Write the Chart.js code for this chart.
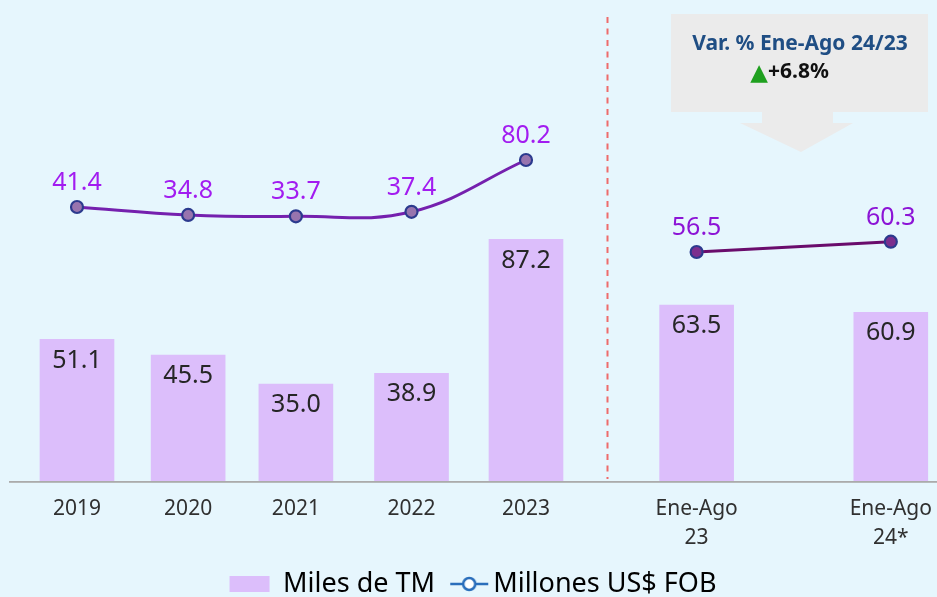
<!DOCTYPE html>
<html><head><meta charset="utf-8">
<script src="https://cdn.jsdelivr.net/npm/chart.js@4.4.1/dist/chart.umd.min.js"></script>
<style>html,body{margin:0;padding:0;background:#E6F6FD;overflow:hidden}#wrap{width:937px;height:597px}</style>
</head><body><div id="wrap"><canvas id="c" width="937" height="597"></canvas></div>
<script>
// ---- data ----
const categories = ['2019', '2020', '2021', '2022', '2023', ['Ene-Ago', '23'], ['Ene-Ago', '24*']];
const tmValues = [51.1, 45.5, 35.0, 38.9, 87.2, 63.5, 60.9];      // Miles de TM
const fobAnnual = [41.4, 34.8, 33.7, 37.4, 80.2];                 // Millones US$ FOB 2019-2023
const fobPartial = [56.5, 60.3];                                   // Millones US$ FOB Ene-Ago
const legendLabels = ['Miles de TM', 'Millones US$ FOB'];
const varTitle = 'Var. % Ene-Ago 24/23';
const varValue = '+6.8%';

// ---- layout (category slots on the x axis) ----
const slot = [0, 0.99, 1.95, 2.98, 4, 5.52, 7.25];
const SEPARATOR_AT = 4.719;

const BAR = '#DCBEFB';
const LINE1 = '#7520AE';
const LINE2 = '#6A0C6C';
const MARK_BORDER = '#2C3A8E';
const FONT = "'Noto Sans', sans-serif";
Chart.defaults.font.family = FONT;

// legend icon for the line series (transparent margin on the left)
const icon = document.createElement('canvas');
icon.width = 59; icon.height = 18;
(function () {
  const g = icon.getContext('2d');
  g.strokeStyle = '#2A6EBB'; g.lineWidth = 2.5;
  g.beginPath(); g.moveTo(20, 9); g.lineTo(58, 9); g.stroke();
  g.fillStyle = '#FFFFFF';
  g.beginPath(); g.arc(39, 9, 6, 0, Math.PI * 2); g.fill(); g.stroke();
})();

const overlay = {
  id: 'overlay',
  beforeDatasetsDraw(chart) {
    const { ctx, chartArea, scales } = chart;
    const px = Math.round(scales.x.getPixelForValue(SEPARATOR_AT)) + 0.5;
    ctx.save();
    ctx.strokeStyle = '#EE6B6B'; ctx.lineWidth = 2; ctx.setLineDash([6, 5.5]);
    ctx.beginPath(); ctx.moveTo(px, chartArea.top); ctx.lineTo(px, chartArea.bottom - 2); ctx.stroke();
    ctx.restore();
  },
  afterDatasetsDraw(chart) {
    const { ctx, chartArea } = chart;
    ctx.save();
    // axis line
    ctx.fillStyle = '#ABABAB';
    ctx.fillRect(chartArea.left, chartArea.bottom, chart.width - chartArea.left, 1.8);
    ctx.textAlign = 'center'; ctx.textBaseline = 'middle';
    ctx.font = '25px ' + FONT;
    ctx.fillStyle = '#262626';
    chart.getDatasetMeta(0).data.forEach((el, i) => {
      ctx.fillText(tmValues[i].toFixed(1), el.x, el.y + 21);
    });
    ctx.fillStyle = '#A21CF0';
    chart.getDatasetMeta(1).data.forEach((el, i) => {
      ctx.fillText(fobAnnual[i].toFixed(1), el.x, el.y - 24);
    });
    ctx.fillStyle = '#8C14D6';
    chart.getDatasetMeta(2).data.forEach((el, i) => {
      ctx.fillText(fobPartial[i].toFixed(1), el.x, el.y - 24);
    });
    // callout
    ctx.fillStyle = '#EBEBEB';
    ctx.fillRect(671, 14, 257, 98);
    ctx.beginPath();
    ctx.moveTo(762, 111); ctx.lineTo(833, 111); ctx.lineTo(833, 123); ctx.lineTo(853, 123);
    ctx.lineTo(801, 152); ctx.lineTo(740, 123); ctx.lineTo(762, 123); ctx.closePath(); ctx.fill();
    ctx.font = 'bold 21px ' + FONT;
    ctx.fillStyle = '#1F4E84';
    ctx.fillText(varTitle, 800, 44);
    ctx.textAlign = 'right'; ctx.textBaseline = 'alphabetic';
    ctx.fillStyle = '#1FA01F';
    ctx.font = "23px 'DejaVu Sans'";
    ctx.fillText('\u25B2', 768, 80);
    ctx.textAlign = 'left'; ctx.textBaseline = 'middle';
    ctx.fillStyle = '#111111';
    ctx.font = 'bold 21px ' + FONT;
    ctx.fillText(varValue, 768, 72.5);
    ctx.restore();
  }
};

new Chart(document.getElementById('c'), {
  type: 'bar',
  data: {
    datasets: [
      {
        type: 'bar', label: legendLabels[0],
        data: tmValues.map((v, i) => ({ x: slot[i], y: v })),
        backgroundColor: BAR, barThickness: 74, yAxisID: 'yBar', order: 2
      },
      {
        type: 'line', label: legendLabels[1],
        data: fobAnnual.map((v, i) => ({ x: slot[i], y: v })),
        yAxisID: 'yL1', borderColor: LINE1, borderWidth: 3, tension: 0.4,
        pointRadius: 6, pointBackgroundColor: '#9874AE', pointBorderColor: MARK_BORDER, pointBorderWidth: 2.2,
        order: 1
      },
      {
        type: 'line', label: legendLabels[1],
        data: fobPartial.map((v, i) => ({ x: slot[5 + i], y: v })),
        yAxisID: 'yL2', borderColor: LINE2, borderWidth: 3, tension: 0,
        pointRadius: 6, pointBackgroundColor: '#7C2E8E', pointBorderColor: MARK_BORDER, pointBorderWidth: 2.2,
        order: 1
      }
    ]
  },
  options: {
    responsive: false, animation: false, devicePixelRatio: 1,
    layout: { padding: { left: 9, right: 0, top: 17, bottom: 0 } },
    scales: {
      x: {
        type: 'linear', min: -0.6058, max: 7.5884, offset: false,
        grid: { display: false, drawTicks: false, offset: false },
        border: { display: false },
        afterBuildTicks: s => { s.ticks = slot.map(v => ({ value: v })); },
        afterFit: s => { s.paddingLeft = 0; s.paddingRight = 0; },
        ticks: {
          autoSkip: false, maxRotation: 0, minRotation: 0, padding: 13, color: '#303030',
          font: { size: 21, lineHeight: 1.4 },
          callback: (v, i) => categories[i]
        }
      },
      yBar: { display: false, min: 0, max: 167.5 },
      yL1: { display: false, min: -184.9, max: 198.3 },
      yL2: { display: false, min: -28.0, max: 143.2 }
    },
    plugins: {
      tooltip: { enabled: false },
      legend: {
        position: 'bottom', align: 'center', maxHeight: 31.2,
        labels: {
          usePointStyle: true, pointStyleWidth: 40, boxHeight: 16, padding: 4.7,
          color: '#222222', font: { size: 27 },
          generateLabels: () => [
            { text: legendLabels[0], pointStyle: 'rect', fillStyle: BAR, strokeStyle: BAR, lineWidth: 0, hidden: false, datasetIndex: 0 },
            { text: legendLabels[1], pointStyle: icon, fillStyle: '#FFFFFF', strokeStyle: '#2A6EBB', lineWidth: 0, hidden: false, datasetIndex: 1 }
          ]
        }
      }
    }
  },
  plugins: [overlay]
});
</script>
</body></html>
